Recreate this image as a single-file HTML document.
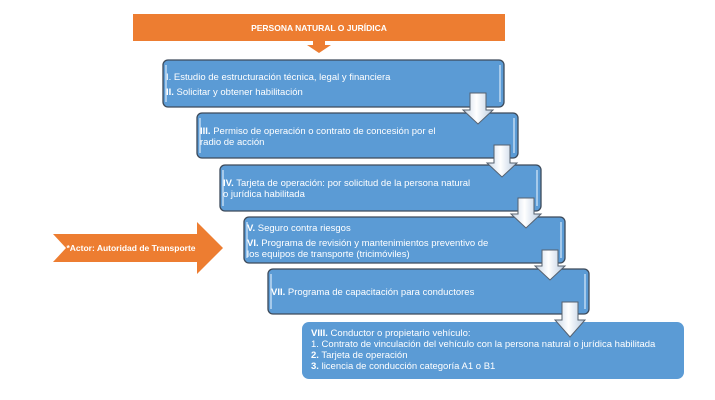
<!DOCTYPE html>
<html><head><meta charset="utf-8"><style>
html,body{margin:0;padding:0;background:#fff;}
svg{display:block;}
text{font-family:"Liberation Sans",Arial,sans-serif;fill:#fff;font-size:9.5px;}
.b{font-weight:bold;}
</style></head><body>
<svg width="715" height="400" viewBox="0 0 715 400" xmlns="http://www.w3.org/2000/svg">
<defs>
<linearGradient id="ag" x1="0" x2="1" y1="0" y2="0">
<stop offset="0" stop-color="#c8d6e6"/><stop offset="0.45" stop-color="#ffffff"/><stop offset="1" stop-color="#b9cbe0"/>
</linearGradient>
</defs>
<!-- top orange bar -->
<rect x="133" y="14" width="372" height="27" fill="#ed7d31"/>
<text x="319" y="31" text-anchor="middle" class="b" style="font-size:8.5px">PERSONA NATURAL O JURÍDICA</text>
<polygon points="313,41 325,41 325,45 331,45 319,53 307,45 313,45" fill="#ed7d31"/>

<!-- boxes -->
<g stroke="#3d4a5a" stroke-width="1.3" fill="#5b9bd5">
<rect x="163" y="60" width="341" height="47" rx="5"/>
<rect x="197" y="113" width="321" height="45" rx="5"/>
<rect x="220" y="165" width="321" height="46" rx="5"/>
<rect x="244" y="217" width="321" height="46" rx="5"/>
<rect x="268" y="269" width="321" height="45" rx="5"/>
</g>
<rect x="302" y="322" width="382" height="57" rx="7" fill="#5b9bd5"/>
<!-- inner highlights -->
<g stroke="#cfe3f7" stroke-width="1.3">
<line x1="166" y1="65" x2="166" y2="102"/><line x1="500" y1="65" x2="500" y2="102"/>
<line x1="200" y1="118" x2="200" y2="153"/><line x1="514" y1="118" x2="514" y2="153"/>
<line x1="223" y1="170" x2="223" y2="206"/><line x1="537" y1="170" x2="537" y2="206"/>
<line x1="247" y1="222" x2="247" y2="258"/><line x1="561" y1="222" x2="561" y2="258"/>
<line x1="271" y1="274" x2="271" y2="309"/><line x1="585" y1="274" x2="585" y2="309"/>
</g>

<!-- texts -->
<text x="166" y="80">I. Estudio de estructuración técnica, legal y financiera</text>
<text x="166" y="95"><tspan class="b">II.</tspan> Solicitar y obtener habilitación</text>
<text x="200" y="134"><tspan class="b">III.</tspan> Permiso de operación o contrato de concesión por el</text>
<text x="200" y="145">radio de acción</text>
<text x="223" y="186"><tspan class="b">IV.</tspan> Tarjeta de operación: por solicitud de la persona natural</text>
<text x="223" y="197">o jurídica habilitada</text>
<text x="247" y="231"><tspan class="b">V.</tspan> Seguro contra riesgos</text>
<text x="247" y="246"><tspan class="b">VI.</tspan> Programa de revisión y mantenimientos preventivo de</text>
<text x="247" y="257">los equipos de transporte (tricimóviles)</text>
<text x="271" y="295"><tspan class="b">VII.</tspan> Programa de capacitación para conductores</text>
<text x="311" y="336"><tspan class="b">VIII.</tspan> Conductor o propietario vehículo:</text>
<text x="311" y="347">1. Contrato de vinculación del vehículo con la persona natural o jurídica habilitada</text>
<text x="311" y="358"><tspan class="b">2.</tspan> Tarjeta de operación</text>
<text x="311" y="369"><tspan class="b">3.</tspan> licencia de conducción categoría A1 o B1</text>

<!-- down arrows -->
<g fill="url(#ag)" stroke="#55606e" stroke-width="1">
<polygon points="470,93 486,93 486,110 493,110 478,124 463,110 470,110"/>
<polygon points="494,145 510,145 510,163 517,163 502,177 487,163 494,163"/>
<polygon points="518,198 534,198 534,214 541,214 526,228 511,214 518,214"/>
<polygon points="542,250 558,250 558,266 565,266 550,280 535,266 542,266"/>
<polygon points="562,302 578,302 578,320 585,320 570,337 555,320 562,320"/>
</g>

<!-- side orange arrow -->
<polygon points="53,234 197,234 197,222 223,248 197,274 197,262 53,262 66,248" fill="#ed7d31"/>
<text x="131" y="251" text-anchor="middle" class="b" style="font-size:8.5px">*Actor: Autoridad de Transporte</text>
</svg>
</body></html>
